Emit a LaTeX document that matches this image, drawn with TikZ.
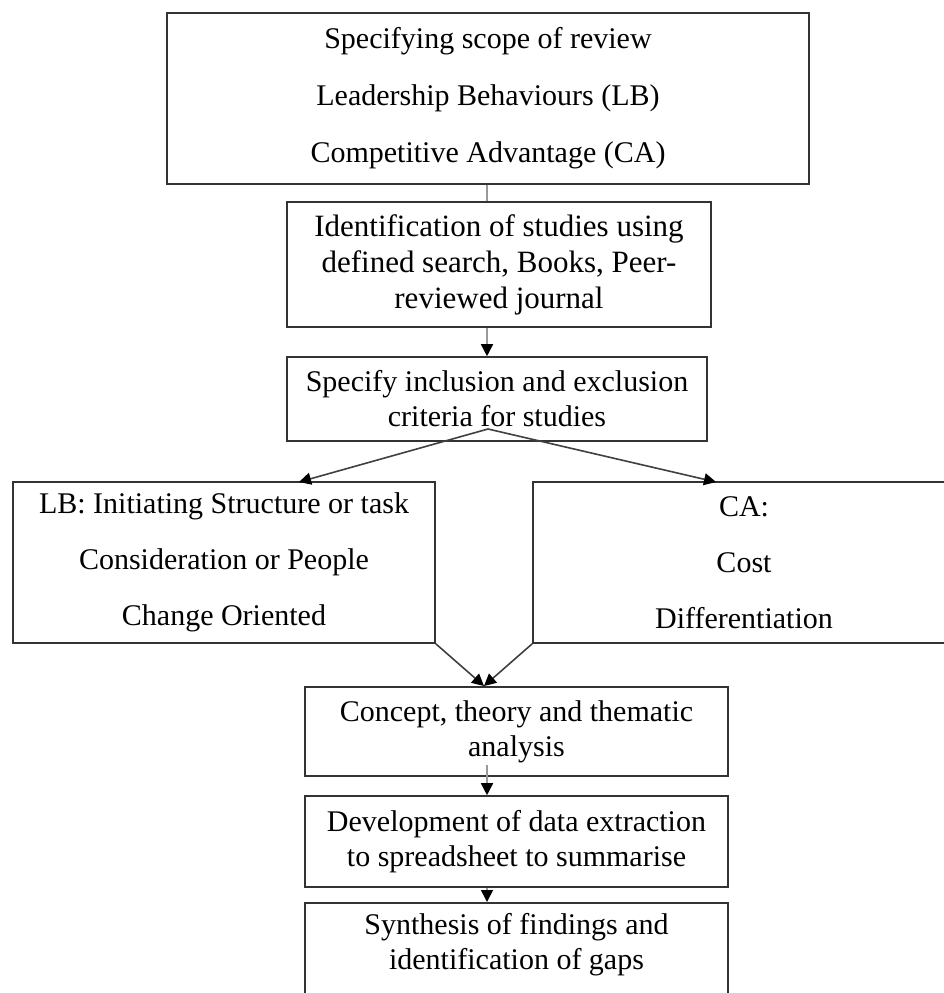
\documentclass[tikz,border=0pt]{standalone}
\usepackage{fontspec}
\setmainfont{Liberation Serif}
\usetikzlibrary{arrows.meta}

\tikzset{
  box/.style={draw=black!80, line width=1.6pt, align=center, inner sep=0pt,
    font=\fontsize{30}{35}\selectfont},
  flow/.style={line width=1.6pt, -{Triangle[length=12pt,width=12pt,color=black]}},
}

\begin{document}
\begin{tikzpicture}[x=1pt,y=-1pt]
\useasboundingbox (0,0) rectangle (944,993);
\clip (0,0) rectangle (944,993);

\node[box, line width=2.6pt, minimum width=642, minimum height=171,
  font=\fontsize{30}{57}\selectfont] (scope) at (488,98.5)
  {Specifying scope of review\\Leadership Behaviours (LB)\\Competitive Advantage (CA)};
\node[box, minimum width=424, minimum height=125,
  font=\fontsize{31}{36}\selectfont] (ident) at (499,264.5)
  {Identification of studies using\\defined search, Books, Peer-\\reviewed journal};
\node[box, minimum width=420, minimum height=84] (criteria) at (497,399)
  {Specify inclusion and exclusion\\criteria for studies};
\node[box, minimum width=422, minimum height=161,
  font=\fontsize{30}{56}\selectfont] (lb) at (224,562.5)
  {LB: Initiating Structure or task\\Consideration or People\\Change Oriented};
\node[box, minimum width=422, minimum height=161,
  font=\fontsize{30}{56}\selectfont] (ca) at (744,562.5)
  {CA:\\Cost\\Differentiation};
\node[box, minimum width=423, minimum height=89] (concept) at (516.5,731.5)
  {Concept, theory and thematic\\analysis};
\node[box, minimum width=423, minimum height=91] (develop) at (516.5,841.5)
  {Development of data extraction\\to spreadsheet to summarise};
\node[box, minimum width=423, minimum height=130, anchor=north] (synth) at (516.5,902) {};
\node[align=center, font=\fontsize{30}{35}\selectfont] (synthtext) at (516.5,945)
  {Synthesis of findings and\\identification of gaps};

\coordinate (split) at (488,429);
\coordinate (lbin) at (299,482);
\coordinate (cain) at (716,482);
\coordinate (merge) at (484,686);
\coordinate (conceptout) at (487,765);

\draw[gray!80, line width=2pt] (scope.south -| 487,0) -- (ident.north -| 487,0);
\draw[flow, gray!80] (ident.south -| 487,0) -- (criteria.north -| 487,0);
\draw[flow, black!75] (split) -- (lbin);
\draw[flow, black!75] (split) -- (cain);
\draw[flow, black!75] (lb.south east) -- (merge);
\draw[flow, black!75] (ca.south west) -- (merge);
\draw[flow, gray!80] (conceptout) -- (develop.north -| 487,0);
\draw[flow, gray!80] (develop.south -| 487,0) -- (synth.north -| 487,0);

\end{tikzpicture}
\end{document}
